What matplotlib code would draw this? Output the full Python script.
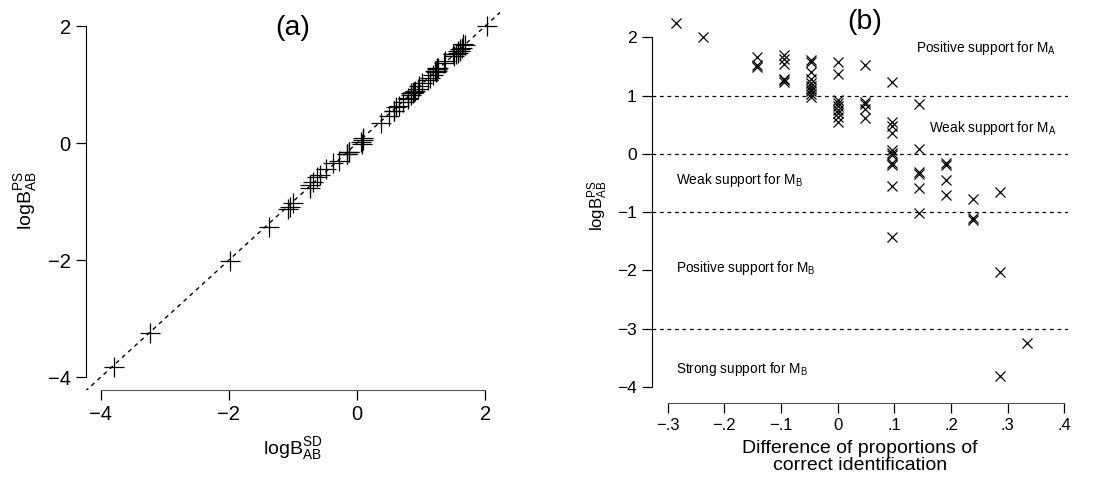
import matplotlib.pyplot as plt

plt.rcParams['font.family'] = ['Liberation Sans', 'DejaVu Sans']
plt.rcParams['mathtext.fontset'] = 'custom'
plt.rcParams['mathtext.rm'] = 'Liberation Sans'
plt.rcParams['mathtext.it'] = 'Liberation Sans:italic'

# Panel (b): difference of proportions (multiples of 1/21) and log Bayes factor (PS)
diff_prop = ([-6 / 21] + [-5 / 21] + [-3 / 21] * 3 + [-2 / 21] * 6 + [-1 / 21] * 10
             + [0.0] * 9 + [1 / 21] * 5 + [2 / 21] * 11 + [3 / 21] * 6
             + [4 / 21] * 4 + [5 / 21] * 3 + [6 / 21] * 3 + [7 / 21])
log_b_ps = [2.25,
            2.00,
            1.67, 1.52, 1.49,
            1.70, 1.62, 1.54, 1.29, 1.26, 1.24,
            1.61, 1.57, 1.41, 1.28, 1.21, 1.16, 1.12, 1.08, 1.03, 0.98,
            1.58, 1.37, 0.93, 0.87, 0.82, 0.76, 0.70, 0.64, 0.55,
            1.52, 0.89, 0.86, 0.77, 0.62,
            1.23, 0.55, 0.47, 0.35, 0.06, 0.02, -0.02, -0.16, -0.19, -0.55, -1.43,
            0.86, 0.08, -0.31, -0.34, -0.58, -1.02,
            -0.16, -0.19, -0.45, -0.71,
            -0.77, -1.10, -1.13,
            -0.66, -2.02, -3.82,
            -3.24]

# Panel (a): log Bayes factor by SD vs by PS
log_b_sd_a = [2.02,
              1.68, 1.55, 1.52,
              1.66, 1.63, 1.57, 1.27, 1.24, 1.21,
              1.60, 1.58, 1.38, 1.25, 1.23, 1.18, 1.14, 1.10, 1.01, 0.96,
              1.60, 1.35, 0.95, 0.89, 0.84, 0.79, 0.72, 0.66, 0.58,
              1.50, 0.91, 0.88, 0.79, 0.60,
              1.25, 0.58, 0.50, 0.38, 0.09, 0.06, 0.08, -0.12, -0.15, -0.58, -1.38,
              0.84, 0.10, -0.28, -0.37, -0.62, -1.00,
              -0.12, -0.16, -0.48, -0.74,
              -0.74, -1.05, -1.08,
              -0.68, -1.98, -3.80,
              -3.23]
log_b_ps_a = log_b_ps[1:]

fig = plt.figure(figsize=(10.94, 4.8), dpi=100)

# ---- panel (a)
ax1 = fig.add_axes([0.0786, 0.1875, 0.3784, 0.7875])
ax1.plot([-6, 4], [-6, 4], color='black', linestyle=(0, (3, 3)), linewidth=1)
ax1.plot(log_b_sd_a, log_b_ps_a, linestyle='none', marker='+', markersize=14,
         markeredgewidth=0.9, color='black')
ax1.set_xlim(-4.23, 2.23)
ax1.set_ylim(-4.22, 2.24)
ax1.set_xticks([-4, -2, 0, 2])
ax1.set_yticks([-4, -2, 0, 2])
ax1.set_xticklabels(['\u22124', '\u22122', '0', '2'])
ax1.set_yticklabels(['\u22124', '\u22122', '0', '2'])
ax1.text(0.5, 0.958, '(a)', transform=ax1.transAxes, ha='center', va='center', fontsize=20.5)
ax1.set_xlabel(r'$\mathrm{logB}_{\mathrm{AB}}^{\mathrm{SD}}$', fontsize=14, labelpad=8)
ax1.set_ylabel(r'$\mathrm{logB}_{\mathrm{AB}}^{\mathrm{PS}}$', fontsize=14, labelpad=6)

# ---- panel (b)
ax2 = fig.add_axes([0.596, 0.160, 0.380, 0.823])
for h in [1, 0, -1, -3]:
    ax2.axhline(h, color='black', linestyle=(0, (3, 3)), linewidth=0.9)
ax2.plot(diff_prop, log_b_ps, linestyle='none', marker='x', markersize=7,
         markeredgewidth=0.9, color='black')
ax2.set_xlim(-0.3275, 0.406)
ax2.set_ylim(-4.28, 2.5)
ax2.set_xticks([-0.3, -0.2, -0.1, 0, 0.1, 0.2, 0.3, 0.4])
ax2.set_xticklabels(['\u2212.3', '\u2212.2', '\u2212.1', '0', '.1', '.2', '.3', '.4'])
ax2.set_yticks([-4, -3, -2, -1, 0, 1, 2])
ax2.set_yticklabels(['\u22124', '\u22123', '\u22122', '\u22121', '0', '1', '2'])
ax2.text(0.512, 0.965, '(b)', transform=ax2.transAxes, ha='center', va='center', fontsize=20.5)
ax2.set_xlabel('Difference of proportions of\ncorrect identification', fontsize=14,
               labelpad=5, linespacing=1.0)
ax2.set_ylabel(r'$\mathrm{logB}_{\mathrm{AB}}^{\mathrm{PS}}$', fontsize=12, labelpad=5)

lab = dict(va='center', fontsize=9.8)
ax2.text(0.385, 1.81, r'Positive support for $\mathrm{M}_{\mathrm{A}}$', ha='right', **lab)
ax2.text(0.385, 0.44, r'Weak support for $\mathrm{M}_{\mathrm{A}}$', ha='right', **lab)
ax2.text(-0.285, -0.45, r'Weak support for $\mathrm{M}_{\mathrm{B}}$', ha='left', **lab)
ax2.text(-0.285, -1.955, r'Positive support for $\mathrm{M}_{\mathrm{B}}$', ha='left', **lab)
ax2.text(-0.285, -3.69, r'Strong support for $\mathrm{M}_{\mathrm{B}}$', ha='left', **lab)

# R-style detached axes
for ax, xb, yb in [(ax1, (-4, 2), (-4, 2)), (ax2, (-0.3, 0.4), (-4, 2))]:
    ax.spines['top'].set_visible(False)
    ax.spines['right'].set_visible(False)
    ax.spines['bottom'].set_bounds(*xb)
    ax.spines['left'].set_bounds(*yb)
    ax.tick_params(direction='out', length=7, width=0.9, pad=4)

ax1.tick_params(labelsize=14.5)
ax2.tick_params(axis='y', labelsize=12.5)
ax2.tick_params(axis='x', labelsize=12)

ax2.spines['bottom'].set_color('#555555')
ax1.spines['bottom'].set_color('#555555')

fig.savefig('out.png', dpi=100)
